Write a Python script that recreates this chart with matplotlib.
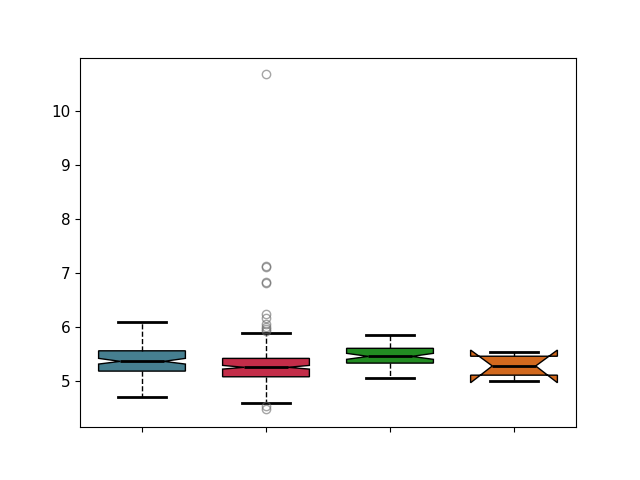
import matplotlib
matplotlib.use("Agg")
import matplotlib.pyplot as plt

# box statistics
med = [5.365, 5.255, 5.457, 5.28]
q1 = [5.185, 5.08, 5.333, 5.11]
q3 = [5.56, 5.42, 5.606, 5.46]
cilo = [5.315, 5.222, 5.402, 4.97]
cihi = [5.42, 5.29, 5.513, 5.574]
whislo = [4.70, 4.587, 5.05, 5.01]
whishi = [6.09, 5.883, 5.852, 5.53]
fliers = [
    [],
    [10.685, 7.11, 7.12, 6.83, 6.82, 6.24, 6.17, 6.06, 6.0, 5.96, 5.93, 4.54, 4.48],
    [],
    [],
]
colors = ["#467f90", "#c32d49", "#228b22", "#d2691e"]

stats = []
for i in range(4):
    stats.append({
        "med": med[i], "q1": q1[i], "q3": q3[i],
        "cilo": cilo[i], "cihi": cihi[i],
        "whislo": whislo[i], "whishi": whishi[i],
        "fliers": fliers[i],
    })

fig, ax = plt.subplots(figsize=(6.4, 4.8), dpi=100)
bp = ax.bxp(stats, shownotches=True, patch_artist=True, widths=0.7,
            capwidths=0.38,
            boxprops=dict(edgecolor="black", linewidth=1),
            medianprops=dict(color="black", linewidth=2),
            whiskerprops=dict(color="black", linestyle="--", linewidth=1),
            capprops=dict(color="black", linewidth=2),
            flierprops=dict(marker="o", markerfacecolor="none",
                            markeredgecolor="dimgray", alpha=0.6,
                            markersize=6))
for patch, c in zip(bp["boxes"], colors):
    patch.set_facecolor(c)

ax.set_xticklabels([])
ax.set_yticks([5, 6, 7, 8, 9, 10])
ax.tick_params(labelsize=11)
ax.set_ylim(4.148, 10.98)

fig.savefig("out.png")
